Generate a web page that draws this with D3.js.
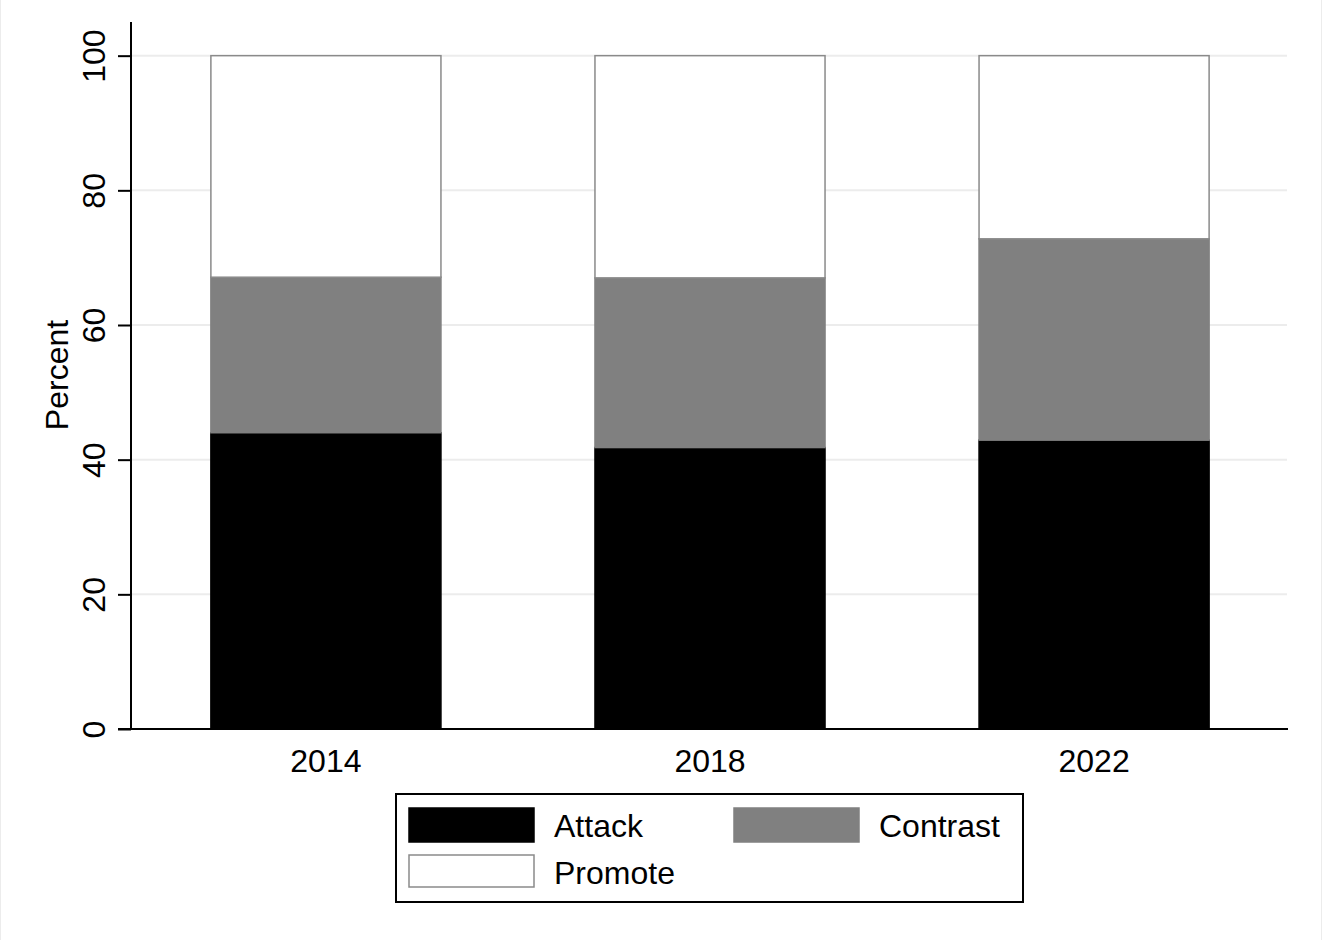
<!DOCTYPE html>
<html>
<head>
<meta charset="utf-8">
<script src="https://cdn.jsdelivr.net/npm/d3@7"></script>
<style>
  html, body { margin: 0; padding: 0; background: #fff; }
  svg { display: block; }
  text { font-family: "Liberation Sans", Arial, sans-serif; fill: #000; }
</style>
</head>
<body>
<script>
const years = ["2014", "2018", "2022"];
const attack = [44.0, 41.8, 42.9];
const contrast = [23.1, 25.2, 29.9];
const promote = [32.9, 33.0, 27.2];
const seriesNames = ["Attack", "Contrast", "Promote"];
const seriesFill = ["#000000", "#808080", "#ffffff"];
const seriesStroke = ["#000000", "#808080", "#8a8a8a"];
const yTicks = [0, 20, 40, 60, 80, 100];
const yLabel = "Percent";

const W = 1323, H = 940;
const svg = d3.select("body").append("svg").attr("width", W).attr("height", H);

svg.append("rect").attr("x", 0).attr("y", 0).attr("width", W).attr("height", H).attr("fill", "#fff");
svg.append("line").attr("x1", 0.5).attr("x2", 0.5).attr("y1", 0).attr("y2", H).attr("stroke", "#ececec");
svg.append("line").attr("x1", W - 1.5).attr("x2", W - 1.5).attr("y1", 0).attr("y2", H).attr("stroke", "#ececec");

const plotL = 131, plotR = 1287, plotT = 22, plotB = 729;

const x = d3.scaleBand().domain(years).range([plotL, plotR + 2]).paddingInner(0.401).paddingOuter(0.208);
const y = d3.scaleLinear().domain([0, 105]).range([plotB, plotT]);

// gridlines
svg.append("g").selectAll("line").data(yTicks.filter(d => d > 0)).join("line")
  .attr("x1", plotL).attr("x2", plotR)
  .attr("y1", d => y(d)).attr("y2", d => y(d))
  .attr("stroke", "#ececec").attr("stroke-width", 2);

// stacked data
const rows = years.map((yr, i) => ({ year: yr, Attack: attack[i], Contrast: contrast[i], Promote: promote[i] }));
const stack = d3.stack().keys(seriesNames)(rows);

const gBars = svg.append("g");
stack.forEach((layer, si) => {
  gBars.append("g").selectAll("rect").data(layer).join("rect")
    .attr("x", d => x(d.data.year))
    .attr("width", x.bandwidth())
    .attr("y", d => y(d[1]))
    .attr("height", d => y(d[0]) - y(d[1]))
    .attr("fill", seriesFill[si])
    .attr("stroke", seriesStroke[si])
    .attr("stroke-width", 1.5);
});

// y axis
const yAxis = d3.axisLeft(y).tickValues(yTicks).tickSize(13).tickPadding(14).tickFormat(d3.format("d"));
const gy = svg.append("g").attr("transform", `translate(${plotL},0)`).call(yAxis);
gy.select(".domain").remove();
gy.selectAll(".tick line").attr("stroke", "#000").attr("stroke-width", 2);
gy.selectAll(".tick text")
  .attr("font-size", 32)
  .attr("x", null).attr("dy", null)
  .attr("text-anchor", "middle")
  .attr("transform", "translate(-26,0) rotate(-90)");
svg.append("line").attr("x1", plotL).attr("x2", plotL).attr("y1", plotT).attr("y2", plotB)
  .attr("stroke", "#000").attr("stroke-width", 2);

// x axis
const xAxis = d3.axisBottom(x).tickSize(0).tickPadding(0);
const gx = svg.append("g").attr("transform", `translate(0,${plotB})`).call(xAxis);
gx.select(".domain").remove();
gx.selectAll(".tick text").attr("font-size", 32).attr("dy", null).attr("y", 43);
svg.append("line").attr("x1", plotL - 13).attr("x2", plotR + 1).attr("y1", plotB).attr("y2", plotB)
  .attr("stroke", "#000").attr("stroke-width", 2);

// y label
svg.append("text").attr("transform", `translate(68,375) rotate(-90)`)
  .attr("text-anchor", "middle").attr("font-size", 32).text(yLabel);

// legend
const lg = svg.append("g");
lg.append("rect").attr("x", 396).attr("y", 794).attr("width", 627).attr("height", 108)
  .attr("fill", "#fff").attr("stroke", "#000").attr("stroke-width", 2);
const legendPos = [
  { sx: 409, sy: 808, tx: 554, ty: 837 },
  { sx: 734, sy: 808, tx: 879, ty: 837 },
  { sx: 409, sy: 855, tx: 554, ty: 884 }
];
seriesNames.forEach((name, i) => {
  const p = legendPos[i];
  lg.append("rect").attr("x", p.sx).attr("y", p.sy).attr("width", 125).attr("height", i === 2 ? 32 : 34)
    .attr("fill", seriesFill[i]).attr("stroke", seriesStroke[i]).attr("stroke-width", 1.5);
  lg.append("text").attr("x", p.tx).attr("y", p.ty).attr("font-size", 32).text(name);
});
</script>
</body>
</html>
